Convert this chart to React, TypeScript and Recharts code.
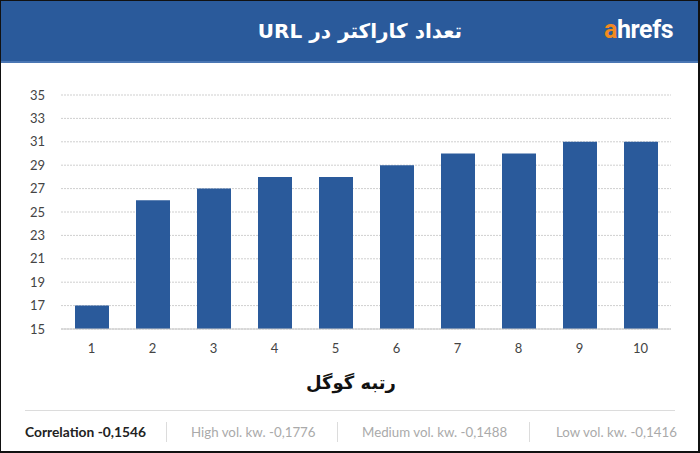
import React from "react";
import { BarChart, Bar, XAxis, YAxis, CartesianGrid } from "recharts";

const ranks = ["1", "2", "3", "4", "5", "6", "7", "8", "9", "10"];
const urlLengths = [17, 26, 27, 28, 28, 29, 30, 30, 31, 31];
const yTicks = [15, 17, 19, 21, 23, 25, 27, 29, 31, 33, 35];
const titleText = "تعداد کاراکتر در URL";
const xAxisTitle = "رتبه گوگل";
const footerItems = [
  "Correlation -0,1546",
  "High vol. kw. -0,1776",
  "Medium vol. kw. -0,1488",
  "Low vol. kw. -0,1416",
];
const footerX = [24, 190, 361, 555];
const footerSepX = [165, 336, 528];

const data = ranks.map((r, i) => ({ rank: r, value: urlLengths[i] }));

const BLUE = "#2A5A9B";

export default function App() {
  return (
    <div
      style={{
        position: "absolute",
        left: 0,
        top: 0,
        width: 700,
        height: 453,
        boxSizing: "border-box",
        borderLeft: "1px solid #111",
        borderTop: "1px solid #111",
        borderRight: "2px solid #111",
        borderBottom: "2px solid #111",
        background: "#fff",
        overflow: "hidden",
        fontFamily: "Lato, 'DejaVu Sans', sans-serif",
      }}
    >
      <div
        style={{
          position: "absolute",
          left: 0,
          top: 0,
          width: 700,
          height: 60,
          background: BLUE,
          borderBottom: "2px solid #4A76B3",
        }}
      />
      <div
        style={{
          position: "absolute",
          left: 200,
          width: 318,
          top: 15,
          textAlign: "center",
          color: "#fff",
          fontWeight: 700,
          fontSize: 20,
          direction: "rtl",
          fontFamily: "'DejaVu Sans', sans-serif",
          lineHeight: "30px",
        }}
      >
        {titleText}
      </div>
      <div
        style={{
          position: "absolute",
          left: 603,
          top: 13,
          color: "#fff",
          fontWeight: 700,
          fontSize: 25,
          fontFamily: "'Roboto', sans-serif",
          lineHeight: "32px",
          letterSpacing: -0.4,
        }}
      >
        <span style={{ color: "#F28A1F" }}>a</span>hrefs
      </div>

      <div style={{ position: "absolute", left: 0, top: 61 }}>
        <BarChart
          width={698}
          height={340}
          data={data}
          margin={{ top: 33, right: 28, bottom: 43, left: 0 }}
          barCategoryGap="0%"
        >
          <CartesianGrid
            vertical={false}
            stroke="#cfcfcf"
            strokeDasharray="2 1"
          />
          <XAxis
            dataKey="rank"
            tickLine={false}
            axisLine={{ stroke: "#c8c8c8" }}
            tick={{ fill: "#444", fontSize: 13, fontFamily: "Lato" }}
            tickMargin={9}
            height={30}
          />
          <YAxis
            domain={[15, 35]}
            ticks={yTicks}
            allowDataOverflow
            tickLine={false}
            axisLine={false}
            tick={{ fill: "#444", fontSize: 13, fontFamily: "Lato" }}
            tickMargin={10}
            width={60}
          />
          <Bar
            dataKey="value"
            fill={BLUE}
            barSize={34}
            isAnimationActive={false}
          />
        </BarChart>
      </div>

      <div
        style={{
          position: "absolute",
          left: 250,
          width: 200,
          top: 368,
          textAlign: "center",
          color: "#111",
          fontWeight: 700,
          fontSize: 18,
          direction: "rtl",
          fontFamily: "'DejaVu Sans', sans-serif",
          lineHeight: "28px",
        }}
      >
        {xAxisTitle}
      </div>

      <div
        style={{
          position: "absolute",
          left: 24,
          top: 409,
          width: 650,
          height: 1,
          background: "#dcdcdc",
        }}
      />
      {footerSepX.map((x) => (
        <div
          key={x}
          style={{
            position: "absolute",
            left: x,
            top: 421,
            width: 1,
            height: 20,
            background: "#dcdcdc",
          }}
        />
      ))}
      {footerItems.map((t, i) => (
        <div
          key={t}
          style={{
            position: "absolute",
            left: footerX[i],
            top: 422,
            fontSize: i === 0 ? 13.8 : 13.3,
            lineHeight: "18px",
            fontFamily: "Lato, sans-serif",
            fontWeight: i === 0 ? 700 : 400,
            color: i === 0 ? "#222" : "#aaa",
            whiteSpace: "nowrap",
          }}
        >
          {t}
        </div>
      ))}
    </div>
  );
}
